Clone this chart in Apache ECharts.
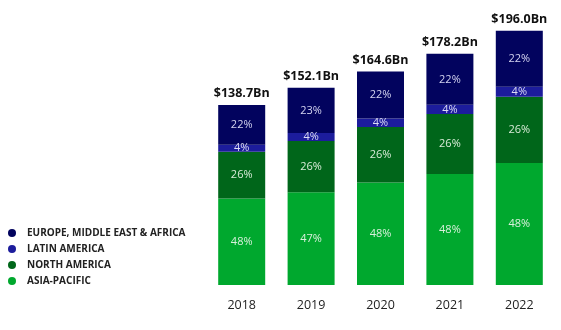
<!DOCTYPE html>
<html><head><meta charset="utf-8">
<script src="https://cdn.jsdelivr.net/npm/echarts@6/dist/echarts.min.js"></script>
<style>html,body{margin:0;padding:0;background:#fff}#c{width:561px;height:330px}</style>
</head><body><div id="c"></div>
<script>
const years = ['2018','2019','2020','2021','2022'];
const totals = [138.7, 152.1, 164.6, 178.2, 196.0];
const seriesNames = ['ASIA-PACIFIC','NORTH AMERICA','LATIN AMERICA','EUROPE, MIDDLE EAST & AFRICA'];
const asiaPacific = [66.6, 71.5, 79.0, 85.5, 94.1];
const northAmerica = [36.1, 39.5, 42.8, 46.3, 51.0];
const latinAmerica = [5.5, 6.1, 6.6, 7.1, 7.8];
const emea = [30.5, 35.0, 36.2, 39.3, 43.1];
const apPct = ['48%','47%','48%','48%','48%'];
const naPct = ['26%','26%','26%','26%','26%'];
const laPct = ['4%','4%','4%','4%','4%'];
const emeaPct = ['22%','23%','22%','22%','22%'];

const colors = ['#00a82e','#00661a','#1c1c9c','#02035e'];
const font = '"Open Sans", sans-serif';
function mk(name, data, pct, color, labelColor){
  return {
    name, type:'bar', stack:'t', data, barWidth:47,
    itemStyle:{color},
    label:{show:true, position:'inside', color:labelColor, fontSize:11, fontFamily:font,
      formatter:p=>pct[p.dataIndex]},
  };
}
const series = [
  mk(seriesNames[0], asiaPacific, apPct, colors[0], '#d8f0dc'),
  mk(seriesNames[1], northAmerica, naPct, colors[1], '#d8ecd8'),
  mk(seriesNames[2], latinAmerica, laPct, colors[2], '#dcdcf4'),
  mk(seriesNames[3], emea, emeaPct, colors[3], '#d4d4f0'),
  {
    name:'total', type:'bar', stack:'t', data: totals.map(()=>0), barWidth:47,
    itemStyle:{color:'transparent'},
    label:{show:true, position:'top', distance:5, color:'#111', fontSize:12.5, fontWeight:'bold', fontFamily:font,
      formatter:p=>'$'+totals[p.dataIndex].toFixed(1)+'Bn'},
    tooltip:{show:false}
  }
];
const chart = echarts.init(document.getElementById('c'), null, {renderer:'canvas'});
chart.setOption({
  animation:false,
  backgroundColor:'#fff',
  grid:{left:207, right:7, top:25.6, bottom:45},
  legend:{
    orient:'vertical', left:8, top:227, itemGap:4, itemWidth:8, itemHeight:8,
    icon:'circle', padding:0,
    data:[seriesNames[3], seriesNames[2], seriesNames[1], seriesNames[0]],
    textStyle:{fontSize:10, lineHeight:12, fontWeight:'bold', color:'#222', fontFamily:font, padding:[0,0,0,6]}
  },
  xAxis:{type:'category', data:years,
    axisLine:{show:false}, axisTick:{show:false},
    axisLabel:{color:'#222', fontSize:12.5, fontFamily:font, margin:14}},
  yAxis:{type:'value', min:0, max:200, show:false, splitLine:{show:false}},
  series
});
</script></body></html>
